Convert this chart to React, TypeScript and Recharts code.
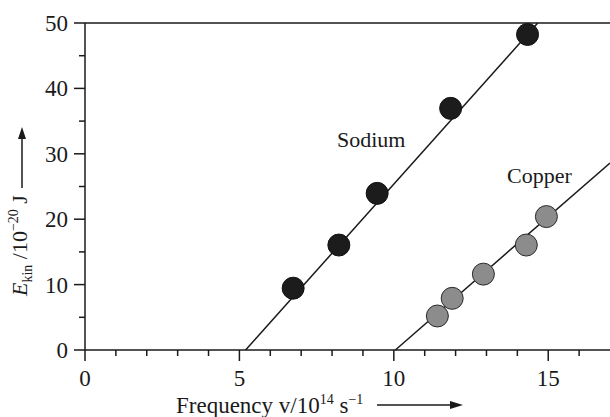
import React from "react";
import {
  ComposedChart,
  Scatter,
  XAxis,
  YAxis,
  ReferenceLine,
} from "recharts";

// measured points (x: frequency /10^14 s^-1, y: E_kin /10^-20 J)
const sodiumPoints = [
  { x: 6.74, y: 9.45 },
  { x: 8.22, y: 16.05 },
  { x: 9.46, y: 23.95 },
  { x: 11.84, y: 36.95 },
  { x: 14.33, y: 48.25 },
];
const copperPoints = [
  { x: 11.41, y: 5.2 },
  { x: 11.89, y: 7.9 },
  { x: 12.9, y: 11.6 },
  { x: 14.29, y: 16.05 },
  { x: 14.94, y: 20.4 },
];

// fitted lines
const sodiumFit = [
  { x: 5.2, y: 0 },
  { x: 14.66, y: 50 },
];
const copperFit = [
  { x: 10.05, y: 0 },
  { x: 17, y: 28.6 },
];

const xTicks = [0, 1, 2, 3, 4, 5, 6, 7, 8, 9, 10, 11, 12, 13, 14, 15, 16];
const yTicks = [0, 5, 10, 15, 20, 25, 30, 35, 40, 45, 50];

const INK = "#1a1a1a";
const FONT = '"Liberation Serif", Tinos, "Times New Roman", Times, serif';
const serif = { fontFamily: FONT };

function XTick(props: any) {
  const { x, y, payload } = props;
  const major = payload.value % 5 === 0;
  return (
    <g>
      <line x1={x} x2={x} y1={y} y2={y + (major ? 11 : 6)} stroke={INK} strokeWidth={1.5} />
      {major && (
        <text x={x} y={y + 36} textAnchor="middle" fontSize={23} style={serif} fill={INK}>
          {payload.value}
        </text>
      )}
    </g>
  );
}

function YTick(props: any) {
  const { x, y, payload } = props;
  const major = payload.value % 10 === 0;
  return (
    <g>
      <line x1={x - (major ? 11 : 6)} x2={x} y1={y} y2={y} stroke={INK} strokeWidth={1.5} />
      {major && (
        <text x={x - 17} y={y} dy="0.35em" textAnchor="end" fontSize={23} style={serif} fill={INK}>
          {payload.value}
        </text>
      )}
    </g>
  );
}

const Dot = (fill: string, stroke: string) => (props: any) => (
  <circle cx={props.cx} cy={props.cy} r={11} fill={fill} stroke={stroke} strokeWidth={1} />
);

const NoShape = () => <g />;

export default function App() {
  return (
    <div style={{ position: "relative", width: 610, height: 417, background: "#fff", fontFamily: FONT }}>
      <style>{"body{margin:0}"}</style>
      <ComposedChart width={610} height={417} margin={{ top: 23, right: 0, bottom: 37, left: 0 }}>
        <XAxis
          type="number"
          dataKey="x"
          domain={[0, 17]}
          ticks={xTicks}
          interval={0}
          height={30}
          tickLine={false}
          tickSize={0}
          tickMargin={0}
          tick={<XTick />}
          axisLine={{ stroke: INK, strokeWidth: 1.5 }}
          allowDataOverflow
        />
        <YAxis
          type="number"
          dataKey="y"
          domain={[0, 50]}
          ticks={yTicks}
          interval={0}
          width={85}
          tickLine={false}
          tickSize={0}
          tickMargin={0}
          tick={<YTick />}
          axisLine={{ stroke: INK, strokeWidth: 1.5 }}
        />
        <ReferenceLine y={50} stroke={INK} strokeWidth={1.5} />
        <Scatter
          data={sodiumFit}
          line={{ stroke: INK, strokeWidth: 1.5 }}
          shape={NoShape}
          isAnimationActive={false}
        />
        <Scatter
          data={copperFit}
          line={{ stroke: INK, strokeWidth: 1.5 }}
          shape={NoShape}
          isAnimationActive={false}
        />
        <Scatter data={sodiumPoints} shape={Dot("#1c1c1c", "#111")} isAnimationActive={false} />
        <Scatter data={copperPoints} shape={Dot("#8c8c8c", "#2a2a2a")} isAnimationActive={false} />
      </ComposedChart>
      <svg
        width={610}
        height={417}
        style={{ position: "absolute", left: 0, top: 0, pointerEvents: "none", fontFamily: FONT }}
        fill={INK}
      >
        <text x={337} y={147} fontSize={22}>Sodium</text>
        <text x={507} y={183} fontSize={22}>Copper</text>
        <text transform="translate(27,296) rotate(-90)" fontSize={22}>
          <tspan fontStyle="italic">E</tspan>
          <tspan fontSize={14} dy={5}>kin</tspan>
          <tspan dy={-5}> /10</tspan>
          <tspan fontSize={14} dy={-9}>−20</tspan>
          <tspan dy={9}> J</tspan>
        </text>
        <line x1={22} x2={22} y1={188} y2={136} stroke={INK} strokeWidth={1.5} />
        <polygon points="22,127 18,139 26,139" />
        <text x={176} y={413} fontSize={23}>
          <tspan>Frequency v/10</tspan>
          <tspan fontSize={14} dy={-9}>14</tspan>
          <tspan dy={9}> s</tspan>
          <tspan fontSize={14} dy={-9}>−1</tspan>
        </text>
        <line x1={377} x2={452} y1={405} y2={405} stroke={INK} strokeWidth={1.5} />
        <polygon points="463,405 450,401 450,409" />
      </svg>
    </div>
  );
}
